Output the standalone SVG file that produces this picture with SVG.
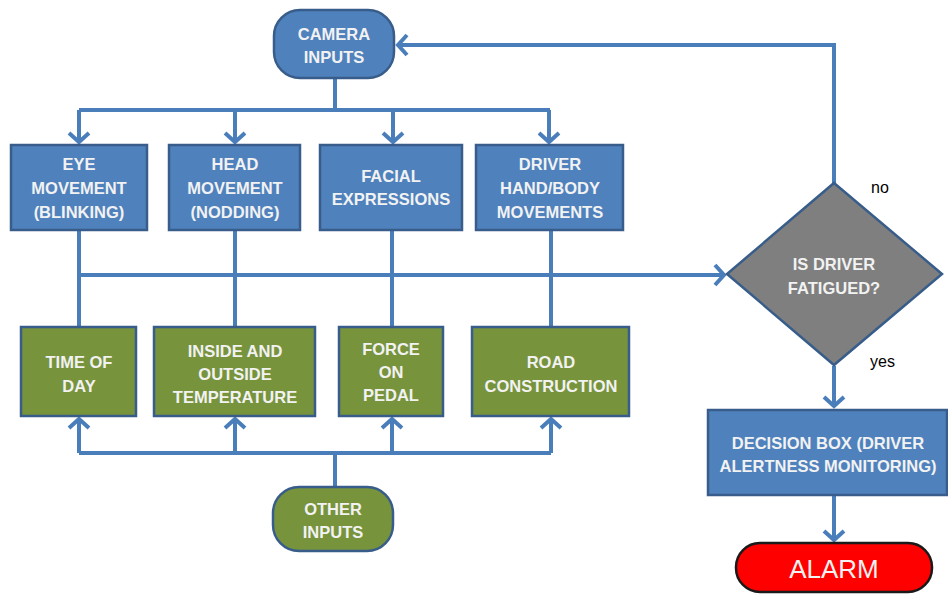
<svg xmlns="http://www.w3.org/2000/svg" width="948" height="594" viewBox="0 0 948 594">
<style>
.blue{fill:#4F81BD;stroke:#385D8A;stroke-width:2.5}
.green{fill:#77933C;stroke:#385D8A;stroke-width:2.5}
.gray{fill:#7F7F7F;stroke:#385D8A;stroke-width:2.5}
.red{fill:#FF0000;stroke:#1a1a1a;stroke-width:2.5}
.t{font-family:"Liberation Sans",Arial,sans-serif;font-weight:bold;font-size:16.5px;fill:#F2F2F2;text-anchor:middle}
.big{font-family:"Liberation Sans",Arial,sans-serif;font-size:26px;fill:#F2F2F2;text-anchor:middle}
.lbl{font-family:"Liberation Sans",Arial,sans-serif;font-size:16px;fill:#000}
.c{fill:none;stroke:#4A7EBB;stroke-width:4}
</style>
<defs>
<marker id="ah" markerUnits="userSpaceOnUse" viewBox="-14 -12 18 24" markerWidth="18" markerHeight="24" refX="0" refY="0" orient="auto" overflow="visible">
<path d="M-10,-10 L-1,0 L-10,10" fill="none" stroke="#4A7EBB" stroke-width="4"/>
</marker>
</defs>
<g id="connectors">
<path class="c" d="M335,78 V110"/>
<path class="c" d="M79,110 H550"/>
<path class="c" d="M79,110 V143" marker-end="url(#ah)"/>
<path class="c" d="M235,110 V143" marker-end="url(#ah)"/>
<path class="c" d="M393,110 V143" marker-end="url(#ah)"/>
<path class="c" d="M549,110 V143" marker-end="url(#ah)"/>
<path class="c" d="M79,230 V327"/>
<path class="c" d="M235,230 V327"/>
<path class="c" d="M392,230 V327"/>
<path class="c" d="M551,230 V327"/>
<path class="c" d="M79,275 H725" marker-end="url(#ah)"/>
<path class="c" d="M79,453 H551"/>
<path class="c" d="M79,453 V418" marker-end="url(#ah)"/>
<path class="c" d="M235,453 V418" marker-end="url(#ah)"/>
<path class="c" d="M392,453 V418" marker-end="url(#ah)"/>
<path class="c" d="M551,453 V418" marker-end="url(#ah)"/>
<path class="c" d="M335,453 V487"/>
<path class="c" d="M834,183 V45 H397" marker-end="url(#ah)"/>
<path class="c" d="M834,366 V407" marker-end="url(#ah)"/>
<path class="c" d="M834,495 V541" marker-end="url(#ah)"/>
</g>
<g id="camera">
<rect class="blue" x="274" y="10" width="120" height="68" rx="26"/>
<text class="t" x="334" y="40">CAMERA</text>
<text class="t" x="334" y="63">INPUTS</text>
</g>
<g id="eye">
<rect class="blue" x="11" y="145" width="136" height="85"/>
<text class="t" x="79" y="170">EYE</text>
<text class="t" x="79" y="194">MOVEMENT</text>
<text class="t" x="79" y="218">(BLINKING)</text>
</g>
<g id="head">
<rect class="blue" x="169" y="145" width="131" height="85"/>
<text class="t" x="235" y="170">HEAD</text>
<text class="t" x="235" y="194">MOVEMENT</text>
<text class="t" x="235" y="218">(NODDING)</text>
</g>
<g id="facial">
<rect class="blue" x="320" y="145" width="142" height="85"/>
<text class="t" x="391" y="182">FACIAL</text>
<text class="t" x="391" y="205">EXPRESSIONS</text>
</g>
<g id="driver">
<rect class="blue" x="476" y="145" width="147" height="85"/>
<text class="t" x="550" y="170">DRIVER</text>
<text class="t" x="550" y="194">HAND/BODY</text>
<text class="t" x="550" y="218">MOVEMENTS</text>
</g>
<g id="time">
<rect class="green" x="21" y="327" width="115" height="89"/>
<text class="t" x="79" y="368">TIME OF</text>
<text class="t" x="79" y="392">DAY</text>
</g>
<g id="temp">
<rect class="green" x="154" y="327" width="161" height="89"/>
<text class="t" x="235" y="357">INSIDE AND</text>
<text class="t" x="235" y="380">OUTSIDE</text>
<text class="t" x="235" y="403">TEMPERATURE</text>
</g>
<g id="force">
<rect class="green" x="339" y="327" width="104" height="89"/>
<text class="t" x="391" y="355">FORCE</text>
<text class="t" x="391" y="378">ON</text>
<text class="t" x="391" y="401">PEDAL</text>
</g>
<g id="road">
<rect class="green" x="472" y="327" width="157" height="89"/>
<text class="t" x="551" y="368">ROAD</text>
<text class="t" x="551" y="392">CONSTRUCTION</text>
</g>
<g id="other">
<rect class="green" x="273" y="487" width="120" height="64" rx="26"/>
<text class="t" x="333" y="515">OTHER</text>
<text class="t" x="333" y="538">INPUTS</text>
</g>
<g id="decision">
<polygon class="gray" points="834,183 942,274 834,365 727,274"/>
<text class="t" x="834" y="270">IS DRIVER</text>
<text class="t" x="834" y="294">FATIGUED?</text>
<text class="lbl" x="871" y="193">no</text>
<text class="lbl" x="870" y="367">yes</text>
</g>
<g id="decisionbox">
<rect class="blue" x="708" y="410" width="239" height="85"/>
<text class="t" x="828" y="449">DECISION BOX (DRIVER</text>
<text class="t" x="828" y="472">ALERTNESS MONITORING)</text>
</g>
<g id="alarm">
<rect class="red" x="736" y="543" width="196" height="49" rx="24"/>
<text class="big" x="834" y="578">ALARM</text>
</g>
</svg>
